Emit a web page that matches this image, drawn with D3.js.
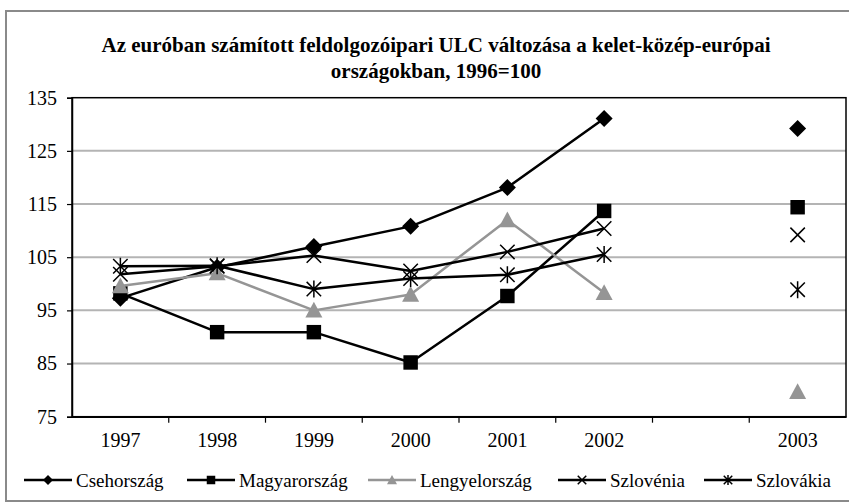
<!DOCTYPE html>
<html>
<head>
<meta charset="utf-8">
<script src="https://cdn.jsdelivr.net/npm/d3@7"></script>
<style>
  html, body { margin: 0; padding: 0; background: #fff; }
  svg { display: block; }
  text { font-family: "Liberation Serif", "Times New Roman", serif; fill: #000; }
</style>
</head>
<body>
<svg id="chart" width="849" height="504"></svg>
<script>
// Categories on the x axis; the blank slot separates 2002 from 2003
const categories = ["1997", "1998", "1999", "2000", "2001", "2002", "", "2003"];
const years = ["1997", "1998", "1999", "2000", "2001", "2002", "2003"];
const yTicks = [75, 85, 95, 105, 115, 125, 135];

// ULC index values (1996 = 100), one per year 1997..2003
const csehorszag   = [97.3, 103.1, 107.0, 110.8, 118.1, 131.1, 129.2];
const magyarorszag = [98.2, 90.9, 90.9, 85.2, 97.7, 113.7, 114.4];
const lengyelorszag = [99.6, 102.0, 95.0, 98.0, 112.0, 98.3, 79.7];
const szlovenia    = [101.8, 103.3, 105.3, 102.4, 106.0, 110.4, 109.2];
const szlovakia    = [103.3, 103.4, 99.0, 101.0, 101.7, 105.5, 98.9];

const seriesNames = ["Csehország", "Magyarország", "Lengyelország", "Szlovénia", "Szlovákia"];
const seriesValues = [csehorszag, magyarorszag, lengyelorszag, szlovenia, szlovakia];
const seriesColors = ["#000000", "#000000", "#959595", "#000000", "#000000"];
const seriesMarkers = ["diamond", "square", "triangle", "cross", "star"];

const title1 = "Az euróban számított feldolgozóipari ULC változása a kelet-közép-európai";
const title2 = "országokban, 1996=100";

const svg = d3.select("#chart");
const plot = { left: 72, top: 97.7, right: 846, bottom: 416.7 };

// Outer chart frame
svg.append("rect")
  .attr("x", 6).attr("y", 11)
  .attr("width", 860).attr("height", 490)
  .attr("fill", "#fff").attr("stroke", "#8a8a8a").attr("stroke-width", 2);

// Title
const titleG = svg.append("g").attr("font-weight", "bold").attr("font-size", 21).attr("text-anchor", "middle");
titleG.append("text").attr("x", 436).attr("y", 52).text(title1);
titleG.append("text").attr("x", 436).attr("y", 78).text(title2);

const x = d3.scaleBand().domain(categories.map((c, i) => i)).range([plot.left, plot.right]);
const y = d3.scaleLinear().domain([75, 135]).range([plot.bottom, plot.top]);
const cx = i => x(i < 6 ? i : i + 1) + x.bandwidth() / 2;

// Horizontal gridlines
svg.append("g").selectAll("line")
  .data(yTicks.filter(t => t > 75 && t < 135))
  .join("line")
  .attr("x1", plot.left).attr("x2", plot.right)
  .attr("y1", d => y(d)).attr("y2", d => y(d))
  .attr("stroke", "#b4b4b4").attr("stroke-width", 2);

// Plot area border
svg.append("rect")
  .attr("x", plot.left).attr("y", plot.top)
  .attr("width", plot.right - plot.left).attr("height", plot.bottom - plot.top)
  .attr("fill", "none").attr("stroke", "#000").attr("stroke-width", 1.5);

// Y axis
const yAxis = d3.axisLeft(y).tickValues(yTicks).tickSize(5).tickPadding(10).tickFormat(d3.format("d"));
const yG = svg.append("g").attr("transform", `translate(${plot.left},0)`).call(yAxis);
yG.select(".domain").attr("stroke", "#000").attr("stroke-width", 1.5);
yG.selectAll(".tick line").attr("stroke", "#000").attr("stroke-width", 1.2);
yG.selectAll(".tick text").attr("font-size", 20).attr("font-family", "Liberation Serif, serif").attr("fill", "#000");

// X axis: ticks on category boundaries, labels centred in each slot
const xAxis = d3.axisBottom(x).tickSize(0).tickPadding(16).tickFormat(i => categories[i]);
const xG = svg.append("g").attr("transform", `translate(0,${plot.bottom})`).call(xAxis);
xG.select(".domain").attr("stroke", "#000").attr("stroke-width", 1.5);
xG.selectAll(".tick text").attr("font-size", 20).attr("font-family", "Liberation Serif, serif").attr("fill", "#000");
xG.selectAll(".boundary")
  .data(d3.range(1, categories.length))
  .join("line")
  .attr("x1", i => x(i)).attr("x2", i => x(i))
  .attr("y1", 0).attr("y2", 6)
  .attr("stroke", "#000").attr("stroke-width", 1.2);

// Marker drawing
function drawMarker(g, type, color, s) {
  if (type === "diamond") {
    g.append("path").attr("d", `M0,${-s}L${s},0L0,${s}L${-s},0Z`).attr("fill", color);
  } else if (type === "square") {
    const h = s * 0.85;
    g.append("rect").attr("x", -h).attr("y", -h).attr("width", 2 * h).attr("height", 2 * h).attr("fill", color);
  } else if (type === "triangle") {
    g.append("path").attr("d", `M0,${-s}L${s},${s * 0.85}L${-s},${s * 0.85}Z`).attr("fill", color);
  } else if (type === "cross") {
    const h = s * 0.85;
    g.append("path").attr("d", `M${-h},${-h}L${h},${h}M${-h},${h}L${h},${-h}`)
      .attr("stroke", color).attr("stroke-width", 1.5).attr("fill", "none");
  } else if (type === "star") {
    const h = s * 0.85;
    g.append("path").attr("d", `M${-h},${-h}L${h},${h}M${-h},${h}L${h},${-h}M0,${-s}L0,${s}`)
      .attr("stroke", color).attr("stroke-width", 1.5).attr("fill", "none");
  }
}

// Series lines (1997-2002) and markers (including the standalone 2003 point)
const line = d3.line().x((d, i) => cx(i)).y(d => y(d));
seriesValues.forEach((vals, k) => {
  const g = svg.append("g");
  g.append("path")
    .attr("d", line(vals.slice(0, 6)))
    .attr("fill", "none")
    .attr("stroke", seriesColors[k])
    .attr("stroke-width", 2.5)
    .attr("stroke-linejoin", "round");
  vals.forEach((v, i) => {
    const m = g.append("g").attr("transform", `translate(${cx(i)},${y(v)})`);
    drawMarker(m, seriesMarkers[k], seriesColors[k], 8.5);
  });
});

// Legend
const legendX = [24, 187, 368, 558, 704];
const legend = svg.append("g").attr("transform", "translate(0,480)");
seriesNames.forEach((name, k) => {
  const g = legend.append("g").attr("transform", `translate(${legendX[k]},0)`);
  g.append("line").attr("x1", 0).attr("x2", 48).attr("y1", 0).attr("y2", 0)
    .attr("stroke", seriesColors[k]).attr("stroke-width", 2.5);
  const m = g.append("g").attr("transform", "translate(24,0)");
  drawMarker(m, seriesMarkers[k], seriesColors[k], 5);
  g.append("text").attr("x", 52).attr("y", 6.5).attr("font-size", 19).text(name);
});
</script>
</body>
</html>
